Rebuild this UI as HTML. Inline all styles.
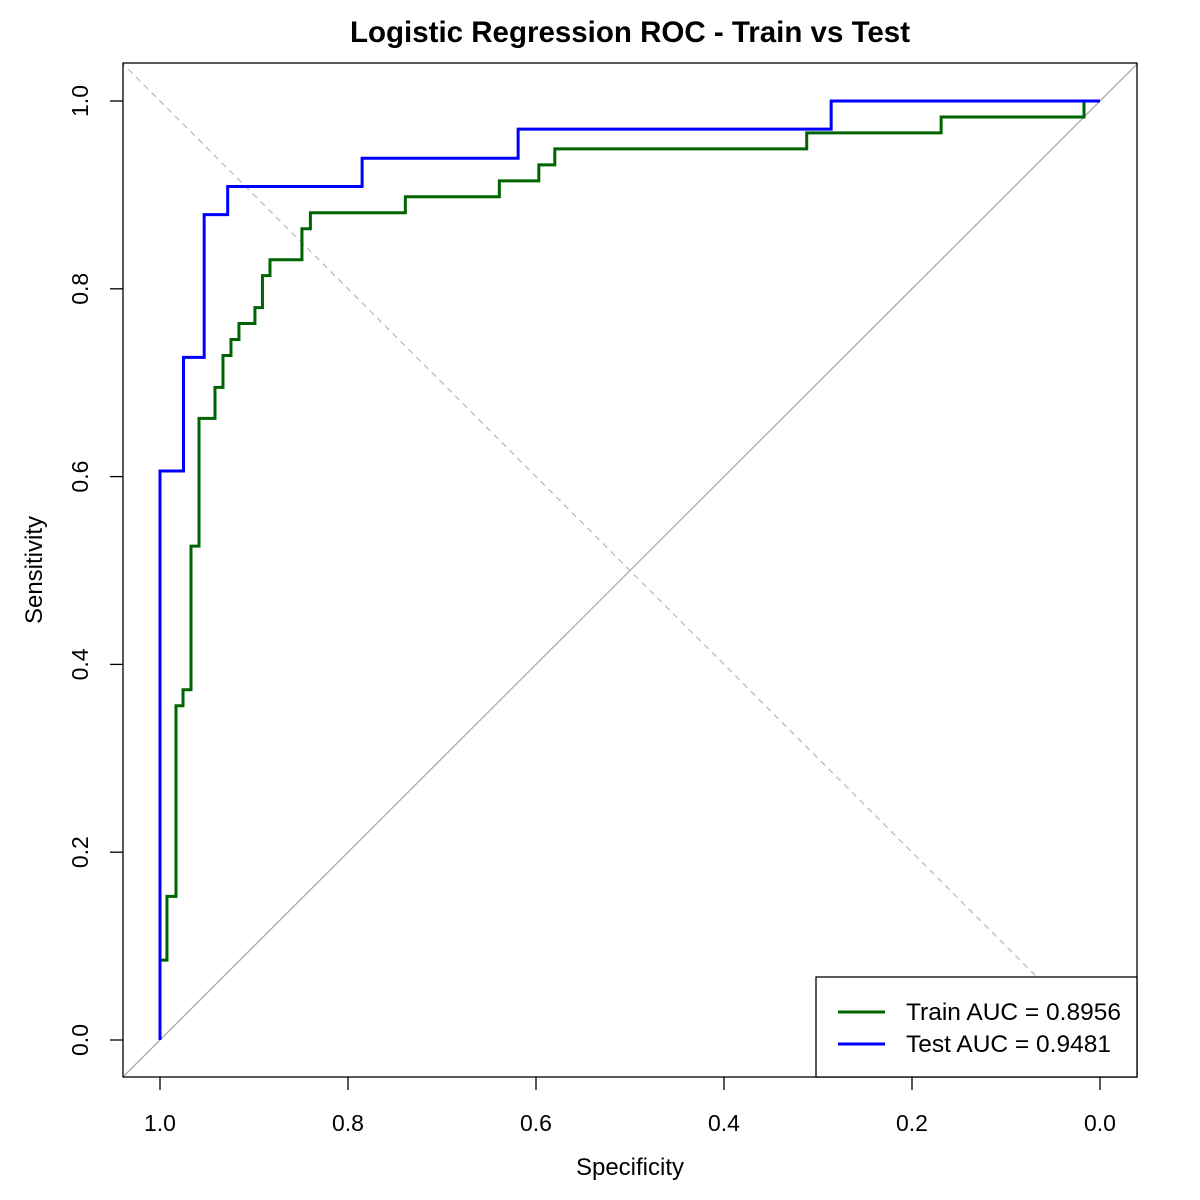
<!DOCTYPE html>
<html><head><meta charset="utf-8"><style>
body{margin:0;background:#fff}
svg{display:block;font-family:"Liberation Sans",sans-serif}
</style></head><body>
<svg id="c" width="1200" height="1200" viewBox="0 0 1200 1200">
<text x="630" y="42" text-anchor="middle" font-size="29.5" font-weight="bold">Logistic Regression ROC - Train vs Test</text>
<defs><clipPath id="pc"><rect x="123" y="63" width="1014" height="1014"/></clipPath></defs>
<g id="plot" clip-path="url(#pc)"></g>
<g id="axes"></g>
<rect x="123" y="63" width="1014" height="1014" fill="none" stroke="#000" stroke-width="1.3"/>
<g>
<rect x="816" y="977" width="321" height="100" fill="#fff" stroke="#000" stroke-width="1.3"/>
<line x1="838" y1="1012" x2="885" y2="1012" stroke="#006400" stroke-width="3"/>
<text x="906" y="1020" font-size="24.5">Train AUC = 0.8956</text>
<line x1="838" y1="1044" x2="885" y2="1044" stroke="#0000ff" stroke-width="3"/>
<text x="906" y="1052" font-size="24.5">Test AUC = 0.9481</text>
</g>
<text x="630" y="1175" text-anchor="middle" font-size="24">Specificity</text>
<text x="0" y="0" transform="translate(42,570) rotate(-90)" text-anchor="middle" font-size="24">Sensitivity</text>
</svg>
<script>
const ticks = [1.0, 0.8, 0.6, 0.4, 0.2, 0.0];
const tickLabels = ["1.0", "0.8", "0.6", "0.4", "0.2", "0.0"];
const trainSpec = [1.0, 0.9926, 0.983, 0.9755, 0.967, 0.9585, 0.9415, 0.933, 0.9245, 0.916, 0.899, 0.891, 0.883, 0.849, 0.840, 0.739, 0.639, 0.597, 0.580, 0.312, 0.169, 0.017];
const trainSens = [0.085, 0.153, 0.356, 0.373, 0.526, 0.662, 0.695, 0.729, 0.746, 0.763, 0.780, 0.814, 0.831, 0.864, 0.881, 0.898, 0.915, 0.932, 0.949, 0.966, 0.983, 1.0];
const testSpec = [1.0, 0.975, 0.953, 0.928, 0.785, 0.619, 0.286];
const testSens = [0.606, 0.727, 0.879, 0.909, 0.939, 0.970, 1.0];

const X = s => 1100 - s * 940;
const Y = v => 1040 - v * 939;
const NS = "http://www.w3.org/2000/svg";
const plot = document.getElementById('plot'), axes = document.getElementById('axes');
function mk(tag, attrs, parent) {
  const e = document.createElementNS(NS, tag);
  for (const k in attrs) e.setAttribute(k, attrs[k]);
  parent.appendChild(e); return e;
}
let l1 = mk('line', {x1: X(1 + 0.1), y1: Y(-0.1), x2: X(-0.1), y2: Y(1.1), stroke: '#aaa', 'stroke-width': 1.3}, plot);


let l2 = mk('line', {x1: X(1.1), y1: Y(1.1), x2: X(-0.1), y2: Y(-0.1), stroke: '#bbb', 'stroke-width': 1.3, 'stroke-dasharray': '6,5'}, plot);



function stepPath(sp, se) {
  let d = 'M' + X(1) + ',' + Y(0), prev = 0;
  for (let i = 0; i < sp.length; i++) {
    d += ' L' + X(sp[i]) + ',' + Y(prev) + ' L' + X(sp[i]) + ',' + Y(se[i]);
    prev = se[i];
  }
  d += ' L' + X(0) + ',' + Y(prev);
  return d;
}
let tr = mk('path', {d: stepPath(trainSpec, trainSens), fill: 'none', stroke: '#006400', 'stroke-width': 3}, plot);


let te = mk('path', {d: stepPath(testSpec, testSens), fill: 'none', stroke: '#0000ff', 'stroke-width': 3}, plot);



ticks.forEach((t, i) => {
  let a = mk('line', {x1: X(t), y1: 1077, x2: X(t), y2: 1090, stroke: '#000', 'stroke-width': 1.3}, axes);
  
  
  let at = mk('text', {x: X(t), y: 1131, 'text-anchor': 'middle', 'font-size': 23}, axes);
  at.textContent = tickLabels[i];
  
  
  const v = 1 - t;
  let b = mk('line', {x1: 110, y1: Y(v), x2: 123, y2: Y(v), stroke: '#000', 'stroke-width': 1.3}, axes);
  
  
  let bt = mk('text', {x: 0, y: 0, transform: 'translate(88,' + Y(v) + ') rotate(-90)', 'text-anchor': 'middle', 'font-size': 23}, axes);
  bt.textContent = tickLabels[ticks.length - 1 - i];
  
  
});
</script>
</body></html>
